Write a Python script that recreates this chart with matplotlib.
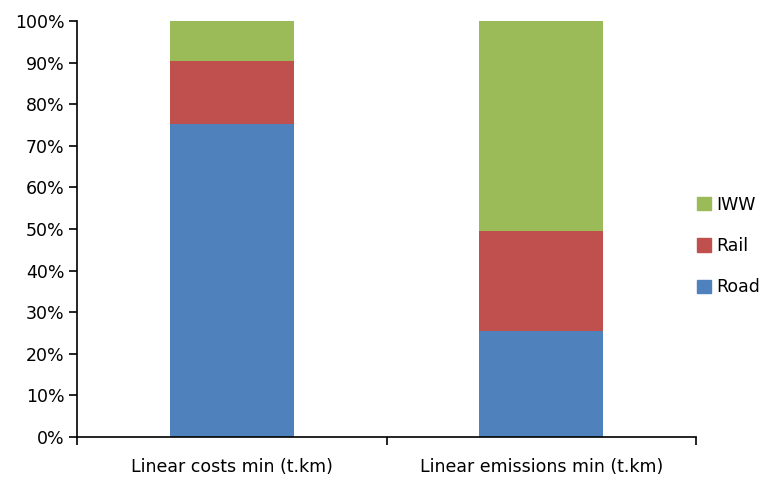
import numpy as np
import matplotlib.pyplot as plt
from matplotlib.patches import Patch
from matplotlib.ticker import FixedLocator

categories = ["Linear costs min (t.km)", "Linear emissions min (t.km)"]
road = [75.2, 25.5]
rail = [15.3, 23.9]
iww = [9.5, 50.6]

colors = {"Road": "#4F81BD", "Rail": "#C0504D", "IWW": "#9BBB59"}

fig = plt.figure(figsize=(7.66, 4.78), dpi=100)
ax = fig.add_axes([77 / 766, 1 - 437 / 478, (696 - 77) / 766, (437 - 21) / 478])

x = np.arange(len(categories))
w = 0.40
road = np.array(road)
rail = np.array(rail)
iww = np.array(iww)
ax.bar(x, road, w, color=colors["Road"])
ax.bar(x, rail, w, bottom=road, color=colors["Rail"])
ax.bar(x, iww, w, bottom=road + rail, color=colors["IWW"])

ax.set_xlim(-0.5, 1.5)
ax.set_ylim(0, 100)
ax.set_yticks(np.arange(0, 101, 10))
ax.set_yticklabels([f"{v}%" for v in range(0, 101, 10)], fontsize=12.5)
ax.set_xticks(x)
ax.set_xticklabels(categories, fontsize=12.5)
ax.tick_params(axis="x", which="major", length=0, pad=15)
ax.xaxis.set_minor_locator(FixedLocator([-0.5, 0.5, 1.5]))
ax.tick_params(axis="x", which="minor", length=6, width=1.2, direction="out")
ax.tick_params(axis="y", length=6, width=1.2, direction="out", pad=3)

for s in ["top", "right"]:
    ax.spines[s].set_visible(False)
for s in ["left", "bottom"]:
    ax.spines[s].set_linewidth(1.2)
    ax.spines[s].set_color("black")

handles = [Patch(color=colors[k]) for k in ["IWW", "Rail", "Road"]]
fig.legend(handles, ["IWW", "Rail", "Road"], loc="center left",
           bbox_to_anchor=(687 / 766, 1 - 246 / 478), frameon=False,
           fontsize=12.5, handlelength=0.8, handleheight=0.8,
           handletextpad=0.3, labelspacing=1.35, borderaxespad=0.2)

fig.savefig("out.png", dpi=100)
